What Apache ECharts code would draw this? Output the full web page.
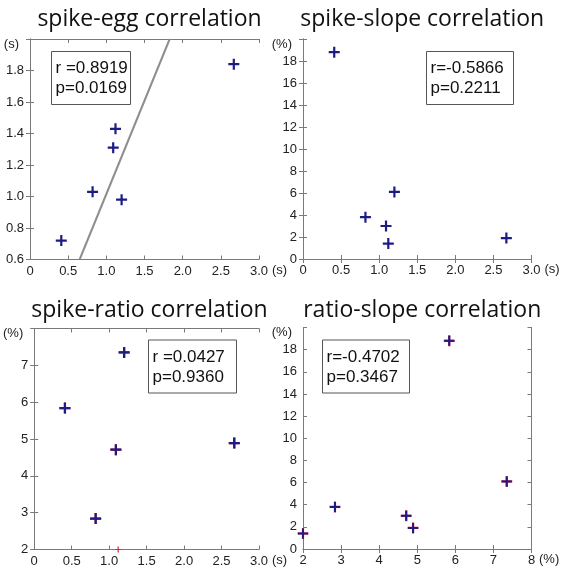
<!DOCTYPE html>
<html>
<head>
<meta charset="utf-8">
<script src="https://cdn.jsdelivr.net/npm/echarts@6/dist/echarts.min.js"></script>
<style>
  html, body { margin: 0; padding: 0; background: #fff; }
  #chart { width: 564px; height: 581px; }
</style>
</head>
<body>
<div id="chart"></div>
<script>
// values, one entry per animal, same order everywhere
var spike = [0.41, 0.82, 1.09, 1.12, 1.20, 2.67];
var egg   = [0.72, 1.03, 1.31, 1.43, 0.98, 1.84];
var slope = [18.8, 3.8, 3.0, 1.4, 6.1, 1.9];
var ratio = [5.84, 2.84, 4.71, 2.0, 7.35, 4.89];

// gray fit line in the first panel (end points)
var fitX = [0.65, 1.83];
var fitY = [0.60, 2.00];

var titles = ['spike-egg correlation', 'spike-slope correlation', 'spike-ratio correlation', 'ratio-slope correlation'];
var statR = ['r =0.8919', 'r=-0.5866', 'r =0.0427', 'r=-0.4702'];
var statP = ['p=0.0169', 'p=0.2211', 'p=0.9360', 'p=0.3467'];

var BLUE = '#1c1c84';
var RED = '#e0203a';
var FRAME = '#7a7a7a';
var TICKFONT = '"Liberation Sans", Arial, sans-serif';

var grids = [
  {left: 30,  top: 39,    width: 229,   height: 220.5},
  {left: 303, top: 39,    width: 228.5, height: 220},
  {left: 30,  top: 328.5, width: 229,   height: 221},
  {left: 303, top: 327.5, width: 228.5, height: 221.5}
];

var plus = 'path://M4,0H6V4H10V6H6V10H4V6H0V4H4Z';

function zip(a, b){
  var out = [];
  for(var i = 0; i < a.length; ++i){
    out.push([a[i], b[i]]);
  }
  return out;
}

function fmtX(v){
  if(v === 0) return '0';
  return v.toFixed(1);
}

function xAxisOf(g, min, max, interval, unit, gap, fmt){
  return {
    type: 'value', gridIndex: g, position: 'bottom',
    min: min, max: max, interval: interval,
    name: unit, nameLocation: 'end', nameGap: gap,
    nameTextStyle: {color: '#222', fontSize: 13, fontFamily: TICKFONT, verticalAlign: 'top', padding: [4, 0, 0, 0]},
    axisLine: {show: true, lineStyle: {color: FRAME}},
    axisTick: {show: true, inside: true, length: 4, lineStyle: {color: FRAME}},
    axisLabel: {color: '#222', fontSize: 13, fontFamily: TICKFONT, margin: 5, formatter: fmt},
    splitLine: {show: false}
  };
}

function yAxisOf(g, min, max, interval, unit, fmt){
  return {
    type: 'value', gridIndex: g, position: 'left',
    min: min, max: max, interval: interval,
    axisLine: {show: true, lineStyle: {color: FRAME}},
    axisTick: {show: true, inside: true, length: 4, lineStyle: {color: FRAME}},
    axisLabel: {
      color: '#222', fontSize: 13, fontFamily: TICKFONT, margin: 6,
      formatter: function(v){
        if(Math.abs(v - max) < 1e-9) return '{u|' + unit + '}';
        return fmt(v);
      },
      rich: {u: {fontSize: 13, fontFamily: TICKFONT, color: '#222', padding: [10, 5, 0, 0]}}
    },
    splitLine: {show: false}
  };
}

function mirror(axis, pos){
  return {
    type: 'value', gridIndex: axis.gridIndex, position: pos,
    min: axis.min, max: axis.max, interval: axis.interval,
    axisLine: {show: true, lineStyle: {color: FRAME}},
    axisTick: {show: true, inside: true, length: 4, lineStyle: {color: FRAME}},
    axisLabel: {show: false},
    splitLine: {show: false}
  };
}

var xAxes = [
  xAxisOf(0, 0, 3, 0.5, '(s)', 6, fmtX),
  xAxisOf(1, 0, 3, 0.5, '(s)', 11, fmtX),
  xAxisOf(2, 0, 3, 0.5, '(s)', 6, fmtX),
  xAxisOf(3, 2, 8, 1, '(%)', 5, function(v){ return String(v); })
];
var yAxes = [
  yAxisOf(0, 0.6, 2.0, 0.2, '(s)', function(v){ return v.toFixed(1); }),
  yAxisOf(1, 0, 20, 2, '(%)', function(v){ return String(v); }),
  yAxisOf(2, 2, 8, 1, '(%)', function(v){ return String(v); }),
  yAxisOf(3, 0, 20, 2, '(%)', function(v){ return String(v); })
];
// top and right edges of each box, ticks only
for(var i = 0; i < 4; ++i){
  xAxes.push(mirror(xAxes[i], 'top'));
  yAxes.push(mirror(yAxes[i], 'right'));
}

function crosses(g, data, color, size, z){
  return {
    type: 'scatter', xAxisIndex: g, yAxisIndex: g,
    data: data, symbol: plus, symbolSize: size,
    itemStyle: {color: color, opacity: 1},
    z: z, silent: true
  };
}

var series = [
  {
    type: 'line', xAxisIndex: 0, yAxisIndex: 0,
    data: zip(fitX, fitY), showSymbol: false, symbol: 'none',
    lineStyle: {color: '#8e8e8e', width: 2}, z: 2, silent: true
  },
  crosses(0, zip(spike, egg), BLUE, 11, 5),
  crosses(1, zip(spike, slope), BLUE, 11, 5),
  crosses(2, zip(spike, ratio).filter(function(d){ return d[1] > 2; }), RED, 11, 4),
  crosses(2, zip(spike, ratio).filter(function(d){ return d[1] > 2; }), BLUE, 11, 5),
  crosses(2, zip(spike, ratio).filter(function(d){ return d[1] <= 2; }), RED, 6, 5),
  crosses(3, zip(ratio, slope), RED, 11, 4),
  crosses(3, zip(ratio, slope), BLUE, 10, 5)
];

var titleOpts = [];
var graphics = [];
var boxes = [
  {x: 51,  y: 51,    w: 79},
  {x: 426, y: 51,    w: 87},
  {x: 148, y: 339.5, w: 88},
  {x: 322, y: 339.5, w: 87}
];
for(var k = 0; k < 4; ++k){
  titleOpts.push({
    text: titles[k],
    left: grids[k].left + grids[k].width / 2,
    top: k < 2 ? 3 : 294,
    textAlign: 'center',
    textStyle: {fontFamily: '"Open Sans", sans-serif', fontSize: 23, fontWeight: 'normal', color: '#111'}
  });
  graphics.push({
    type: 'group', left: boxes[k].x, top: boxes[k].y, z: 100,
    children: [
      {type: 'rect', shape: {x: 0, y: 0, width: boxes[k].w, height: 53},
       style: {fill: '#fff', stroke: '#555', lineWidth: 1}},
      {type: 'text', x: 4, y: 7,
       style: {text: statR[k] + '\n' + statP[k], font: '17px ' + TICKFONT, fill: '#111', lineHeight: 20}}
    ]
  });
}

var myChart = echarts.init(document.getElementById('chart'));
myChart.setOption({
  animation: false,
  title: titleOpts,
  grid: grids,
  xAxis: xAxes,
  yAxis: yAxes,
  series: series,
  graphic: graphics
});
</script>
</body>
</html>
